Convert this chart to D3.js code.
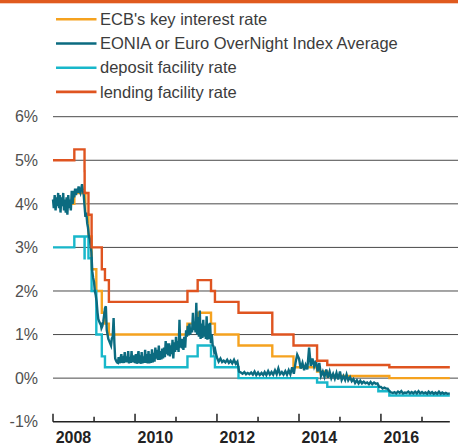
<!DOCTYPE html>
<html>
<head>
<meta charset="utf-8">
<script src="https://cdn.jsdelivr.net/npm/d3@7"></script>
<style>
  body { margin: 0; background: #fff; }
  svg { display: block; font-family: "Liberation Sans", Arial, sans-serif; }
</style>
</head>
<body>
<svg width="458" height="445"></svg>
<script>
// ECB policy rates: date the rate took effect, value in %
const keyRate = [
  ["2008-01-01", 4.00], ["2008-07-09", 4.25], ["2008-10-15", 3.75], ["2008-11-12", 3.25],
  ["2008-12-10", 2.50], ["2009-01-21", 2.00], ["2009-03-11", 1.50], ["2009-04-08", 1.25],
  ["2009-05-13", 1.00], ["2011-04-13", 1.25], ["2011-07-13", 1.50], ["2011-11-09", 1.25],
  ["2011-12-14", 1.00], ["2012-07-11", 0.75], ["2013-05-08", 0.50], ["2013-11-13", 0.25],
  ["2014-06-11", 0.15], ["2014-09-10", 0.05], ["2016-03-16", 0.00], ["2017-09-06", 0.00]
];
const depositRate = [
  ["2008-01-01", 3.00], ["2008-07-09", 3.25], ["2008-10-08", 2.75], ["2008-10-09", 3.25],
  ["2008-11-12", 2.75], ["2008-12-10", 2.00], ["2009-01-21", 1.00], ["2009-03-11", 0.50],
  ["2009-04-08", 0.25], ["2011-04-13", 0.50], ["2011-07-13", 0.75], ["2011-11-09", 0.50],
  ["2011-12-14", 0.25], ["2012-07-11", 0.00], ["2014-06-11", -0.10], ["2014-09-10", -0.20],
  ["2015-12-09", -0.30], ["2016-03-16", -0.40], ["2017-09-06", -0.40]
];
const lendingRate = [
  ["2008-01-01", 5.00], ["2008-07-09", 5.25], ["2008-10-08", 4.75], ["2008-10-09", 4.25],
  ["2008-11-12", 3.75], ["2008-12-10", 3.00], ["2009-03-11", 2.50], ["2009-04-08", 2.25],
  ["2009-05-13", 1.75], ["2011-04-13", 2.00], ["2011-07-13", 2.25], ["2011-11-09", 2.00],
  ["2011-12-14", 1.75], ["2012-07-11", 1.50], ["2013-05-08", 1.00], ["2013-11-13", 0.75],
  ["2014-06-11", 0.40], ["2014-09-10", 0.30], ["2016-03-16", 0.25], ["2017-09-06", 0.25]
];
// EONIA: weekly up to 2011, twice a month afterwards (spikes included)
const eonia = [
  ["2008-01-01",4.10],["2008-01-08",3.90],["2008-01-16",4.20],["2008-01-24",3.85],
  ["2008-02-01",4.15],["2008-02-08",3.95],["2008-02-16",4.25],["2008-02-24",3.90],
  ["2008-03-01",4.20],["2008-03-08",3.80],["2008-03-16",4.15],["2008-03-24",3.95],
  ["2008-04-01",4.25],["2008-04-08",3.85],["2008-04-16",4.10],["2008-04-24",3.80],
  ["2008-05-01",4.15],["2008-05-08",3.75],["2008-05-16",4.20],["2008-05-24",3.90],
  ["2008-06-01",4.10],["2008-06-08",3.85],["2008-06-16",4.30],["2008-06-24",4.00],
  ["2008-07-01",4.30],["2008-07-08",4.15],["2008-07-16",4.35],["2008-07-24",4.20],
  ["2008-08-01",4.35],["2008-08-08",4.25],["2008-08-16",4.40],["2008-08-24",4.30],
  ["2008-09-01",4.25],["2008-09-08",4.35],["2008-09-16",4.45],["2008-09-24",4.30],
  ["2008-10-01",4.20],["2008-10-08",3.95],["2008-10-16",3.70],["2008-10-24",3.80],
  ["2008-11-01",3.55],["2008-11-08",3.45],["2008-11-16",3.25],["2008-11-24",3.20],
  ["2008-12-01",3.05],["2008-12-08",2.90],["2008-12-16",2.45],["2008-12-24",2.30],
  ["2009-01-01",2.20],["2009-01-08",2.00],["2009-01-16",1.90],["2009-01-24",1.75],
  ["2009-02-01",1.50],["2009-02-08",1.35],["2009-02-16",1.30],["2009-02-24",1.25],
  ["2009-03-01",1.25],["2009-03-08",1.15],["2009-03-16",1.20],["2009-03-24",1.30],
  ["2009-04-01",1.45],["2009-04-08",1.60],["2009-04-16",1.65],["2009-04-24",1.10],
  ["2009-05-01",1.00],["2009-05-08",0.90],["2009-05-16",0.85],["2009-05-24",0.80],
  ["2009-06-01",0.75],["2009-06-08",0.90],["2009-06-16",0.95],["2009-06-24",1.38],
  ["2009-07-01",0.80],["2009-07-08",0.45],["2009-07-16",0.40],["2009-07-24",0.36],
  ["2009-08-01",0.35],["2009-08-08",0.48],["2009-08-16",0.34],["2009-08-24",0.45],
  ["2009-09-01",0.55],["2009-09-08",0.35],["2009-09-16",0.42],["2009-09-24",0.35],
  ["2009-10-01",0.60],["2009-10-08",0.36],["2009-10-16",0.50],["2009-10-24",0.36],
  ["2009-11-01",0.62],["2009-11-08",0.34],["2009-11-16",0.48],["2009-11-24",0.35],
  ["2009-12-01",0.62],["2009-12-08",0.36],["2009-12-16",0.52],["2009-12-24",0.40],
  ["2010-01-01",0.35],["2010-01-08",0.55],["2010-01-16",0.33],["2010-01-24",0.50],
  ["2010-02-01",0.62],["2010-02-08",0.34],["2010-02-16",0.52],["2010-02-24",0.33],
  ["2010-03-01",0.60],["2010-03-08",0.34],["2010-03-16",0.50],["2010-03-24",0.35],
  ["2010-04-01",0.65],["2010-04-08",0.35],["2010-04-16",0.55],["2010-04-24",0.34],
  ["2010-05-01",0.62],["2010-05-08",0.34],["2010-05-16",0.55],["2010-05-24",0.35],
  ["2010-06-01",0.66],["2010-06-08",0.36],["2010-06-16",0.58],["2010-06-24",0.38],
  ["2010-07-01",0.70],["2010-07-08",0.45],["2010-07-16",0.65],["2010-07-24",0.42],
  ["2010-08-01",0.75],["2010-08-08",0.42],["2010-08-16",0.62],["2010-08-24",0.43],
  ["2010-09-01",0.68],["2010-09-08",0.45],["2010-09-16",0.70],["2010-09-24",0.48],
  ["2010-10-01",0.85],["2010-10-08",0.55],["2010-10-16",0.80],["2010-10-24",0.52],
  ["2010-11-01",0.80],["2010-11-08",0.50],["2010-11-16",0.75],["2010-11-24",0.55],
  ["2010-12-01",0.88],["2010-12-08",0.45],["2010-12-16",0.82],["2010-12-24",0.60],
  ["2011-01-01",0.95],["2011-01-08",0.65],["2011-01-16",0.85],["2011-01-24",0.60],
  ["2011-02-01",1.34],["2011-02-08",0.70],["2011-02-16",0.90],["2011-02-24",0.68],
  ["2011-03-01",0.90],["2011-03-08",0.65],["2011-03-16",0.95],["2011-03-24",0.70],
  ["2011-04-01",1.10],["2011-04-08",0.95],["2011-04-16",1.20],["2011-04-24",0.98],
  ["2011-05-01",1.25],["2011-05-08",1.00],["2011-05-16",1.15],["2011-05-24",1.05],
  ["2011-06-01",1.50],["2011-06-08",1.10],["2011-06-16",1.30],["2011-06-24",1.05],
  ["2011-07-01",1.73],["2011-07-08",1.00],["2011-07-16",1.40],["2011-07-24",0.95],
  ["2011-08-01",1.55],["2011-08-08",0.90],["2011-08-16",1.25],["2011-08-24",0.92],
  ["2011-09-01",1.34],["2011-09-08",0.95],["2011-09-16",1.20],["2011-09-24",0.90],
  ["2011-10-01",1.42],["2011-10-08",0.88],["2011-10-16",1.25],["2011-10-24",0.90],
  ["2011-11-01",1.27],["2011-11-08",0.80],["2011-11-16",1.00],["2011-11-24",0.75],
  ["2011-12-01",0.73],["2011-12-08",0.60],["2011-12-16",0.65],["2011-12-24",0.55],
  ["2012-01-01",0.47],["2012-01-16",0.38],["2012-02-01",0.45],["2012-02-16",0.37],["2012-03-01",0.40],["2012-03-16",0.36],
  ["2012-04-01",0.42],["2012-04-16",0.35],["2012-05-01",0.40],["2012-05-16",0.34],["2012-06-01",0.42],["2012-06-16",0.33],
  ["2012-07-01",0.38],["2012-07-16",0.15],["2012-08-01",0.13],["2012-08-16",0.10],["2012-09-01",0.14],["2012-09-16",0.09],
  ["2012-10-01",0.12],["2012-10-16",0.09],["2012-11-01",0.13],["2012-11-16",0.08],["2012-12-01",0.15],["2012-12-16",0.07],
  ["2013-01-01",0.13],["2013-01-16",0.07],["2013-02-01",0.12],["2013-02-16",0.07],["2013-03-01",0.14],["2013-03-16",0.07],
  ["2013-04-01",0.16],["2013-04-16",0.08],["2013-05-01",0.14],["2013-05-16",0.08],["2013-06-01",0.18],["2013-06-16",0.09],
  ["2013-07-01",0.22],["2013-07-16",0.09],["2013-08-01",0.14],["2013-08-16",0.08],["2013-09-01",0.16],["2013-09-16",0.08],
  ["2013-10-01",0.18],["2013-10-16",0.09],["2013-11-01",0.25],["2013-11-16",0.10],["2013-12-01",0.35],["2013-12-16",0.54],
  ["2014-01-01",0.45],["2014-01-16",0.22],["2014-02-01",0.35],["2014-02-16",0.18],["2014-03-01",0.30],["2014-03-16",0.20],
  ["2014-04-01",0.70],["2014-04-16",0.28],["2014-05-01",0.45],["2014-05-16",0.27],["2014-06-01",0.40],["2014-06-16",0.15],
  ["2014-07-01",0.35],["2014-07-16",0.05],["2014-08-01",0.15],["2014-08-16",0.03],["2014-09-01",0.20],["2014-09-16",0.01],
  ["2014-10-01",0.15],["2014-10-16",0.00],["2014-11-01",0.10],["2014-11-16",-0.01],["2014-12-01",0.12],["2014-12-16",-0.03],
  ["2015-01-01",0.15],["2015-01-16",-0.04],["2015-02-01",0.05],["2015-02-16",-0.04],["2015-03-01",0.08],["2015-03-16",-0.05],
  ["2015-04-01",0.02],["2015-04-16",-0.07],["2015-05-01",-0.02],["2015-05-16",-0.11],["2015-06-01",-0.05],["2015-06-16",-0.12],
  ["2015-07-01",-0.06],["2015-07-16",-0.12],["2015-08-01",-0.08],["2015-08-16",-0.12],["2015-09-01",-0.10],["2015-09-16",-0.14],
  ["2015-10-01",-0.09],["2015-10-16",-0.14],["2015-11-01",-0.10],["2015-11-16",-0.13],["2015-12-01",-0.12],["2015-12-16",-0.20],
  ["2016-01-01",-0.20],["2016-01-16",-0.24],["2016-02-01",-0.22],["2016-02-16",-0.24],["2016-03-01",-0.24],["2016-03-16",-0.30],
  ["2016-04-01",-0.33],["2016-04-16",-0.34],["2016-05-01",-0.32],["2016-05-16",-0.35],["2016-06-01",-0.31],["2016-06-16",-0.34],
  ["2016-07-01",-0.30],["2016-07-16",-0.35],["2016-08-01",-0.33],["2016-08-16",-0.34],["2016-09-01",-0.31],["2016-09-16",-0.35],
  ["2016-10-01",-0.32],["2016-10-16",-0.35],["2016-11-01",-0.31],["2016-11-16",-0.35],["2016-12-01",-0.30],["2016-12-16",-0.35],
  ["2017-01-01",-0.32],["2017-01-16",-0.35],["2017-02-01",-0.33],["2017-02-16",-0.36],["2017-03-01",-0.31],["2017-03-16",-0.35],
  ["2017-04-01",-0.32],["2017-04-16",-0.36],["2017-05-01",-0.33],["2017-05-16",-0.36],["2017-06-01",-0.31],["2017-06-16",-0.36],
  ["2017-07-01",-0.33],["2017-07-16",-0.36],["2017-08-01",-0.34],["2017-08-16",-0.36],["2017-09-06",-0.35]
];
const yTicks = [6, 5, 4, 3, 2, 1, 0, -1];
const yearLabels = [2008, 2010, 2012, 2014, 2016];
const tickYears = [2008, 2009, 2010, 2011, 2012, 2013, 2014, 2015, 2016, 2017];

const series = [
  { name: "ECB's key interest rate", data: keyRate, color: "#f5a21f", step: true },
  { name: "EONIA or Euro OverNight Index Average", data: eonia, color: "#0b6b80", step: false },
  { name: "deposit facility rate", data: depositRate, color: "#18b7ca", step: true },
  { name: "lending facility rate", data: lendingRate, color: "#df5420", step: true }
];

const svg = d3.select('svg');
const parse = d3.timeParse('%Y-%m-%d');

const x = d3.scaleTime()
  .domain([new Date(2008, 0, 1), new Date(2017, 0, 1)])
  .range([53, 422]);
const y = d3.scaleLinear().domain([-1, 6]).range([421.7, 116.7]);

// top bar
svg.append('rect').attr('x', 0).attr('y', 0).attr('width', 458).attr('height', 3.3)
   .attr('fill', '#e05a1e');

// legend
const legend = svg.append('g');
series.forEach((s, i) => {
  const ly = 19.3 + i * 24.2;
  legend.append('line')
    .attr('x1', 56).attr('x2', 96.5).attr('y1', ly).attr('y2', ly)
    .attr('stroke', s.color).attr('stroke-width', 2.6);
  legend.append('text')
    .attr('x', 100).attr('y', ly).attr('dy', '0.35em')
    .attr('font-size', 16.5).attr('fill', '#3c3c3c')
    .text(s.name);
});

// gridlines
svg.append('g').selectAll('line')
  .data(yTicks.filter(d => d > -1))
  .enter().append('line')
  .attr('x1', 53).attr('x2', 458)
  .attr('y1', d => y(d)).attr('y2', d => y(d))
  .attr('stroke', '#4a4a4a').attr('stroke-width', 1);

svg.append('g').selectAll('text')
  .data(yTicks)
  .enter().append('text')
  .attr('x', 38).attr('y', d => y(d)).attr('dy', '0.36em')
  .attr('text-anchor', 'end')
  .attr('font-size', 16).attr('fill', '#505050')
  .text(d => d + '%');

// lines: policy rates first, then EONIA, lending rate on top
const toPts = arr => arr.map(d => [parse(d[0]), d[1]]);
[0, 2, 1, 3].map(i => series[i]).forEach(s => {
  const line = d3.line()
    .x(d => x(d[0])).y(d => y(d[1]))
    .curve(s.step ? d3.curveStepAfter : d3.curveLinear);
  svg.append('path')
    .datum(toPts(s.data))
    .attr('fill', 'none')
    .attr('stroke', s.color)
    .attr('stroke-width', s.step ? 2.4 : 2.4)
    .attr('stroke-linejoin', 'miter')
    .attr('d', line);
});

// x axis
const axisY = y(-1);
svg.append('line')
  .attr('x1', 53).attr('x2', x(parse('2017-09-06')))
  .attr('y1', axisY).attr('y2', axisY)
  .attr('stroke', '#222').attr('stroke-width', 1.5);
svg.append('g').selectAll('line')
  .data(tickYears)
  .enter().append('line')
  .attr('x1', d => x(new Date(d, 0, 1))).attr('x2', d => x(new Date(d, 0, 1)))
  .attr('y1', axisY).attr('y2', d => axisY - (d % 2 === 0 ? 8 : 5))
  .attr('stroke', '#222').attr('stroke-width', 1.5);
svg.append('g').selectAll('text')
  .data(yearLabels)
  .enter().append('text')
  .attr('x', d => x(new Date(d, 6, 1)))
  .attr('y', 443)
  .attr('text-anchor', 'middle')
  .attr('font-size', 16).attr('font-weight', 'bold').attr('fill', '#222')
  .text(d => d);
</script>
</body>
</html>
